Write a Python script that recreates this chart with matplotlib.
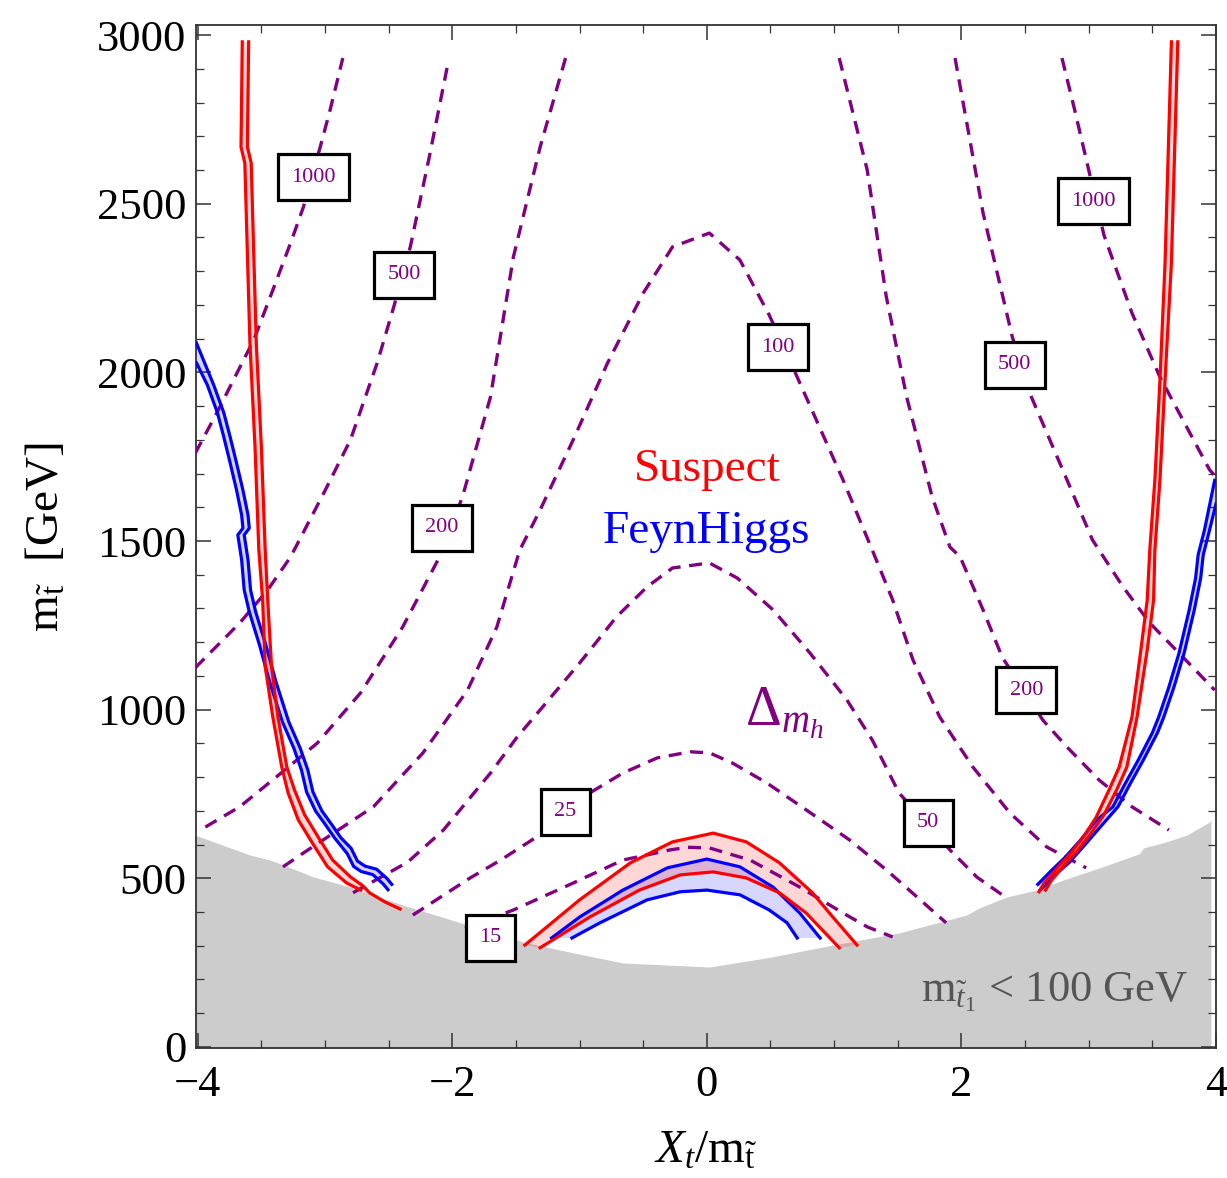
import matplotlib.pyplot as plt

plt.rcParams['font.family'] = 'Liberation Serif'
plt.rcParams['mathtext.fontset'] = 'custom'
plt.rcParams['mathtext.rm'] = 'Liberation Serif'
plt.rcParams['mathtext.it'] = 'Liberation Serif:italic'

# excluded region, m_stop1 < 100 GeV (upper edge)
excl_x = [-4.02, -3.59, -3.43, -3.33, -3.09, -2.80, -2.39, -1.96, -1.44, -1.05, -0.66,
          0.02, 0.47, 0.99, 1.51, 2.04, 2.14, 2.36, 2.59, 2.80, 3.11, 3.40, 3.43, 3.61,
          3.77, 3.95, 3.96]
excl_y = [628, 569, 554, 540, 504, 474, 421, 371, 311, 279, 249,
          237, 264, 302, 338, 391, 412, 445, 465, 495, 534, 573, 590, 608,
          628, 667, 673]

# Delta m_h contours (dashed)
c15_x = [-1.90, -1.52, -1.05, -0.66, -0.29, -0.15, 0.02, 0.34, 0.73, 1.07, 1.26, 1.46]
c15_y = [353, 406, 486, 554, 584, 592, 590, 554, 474, 397, 356, 326]
c25_x = [-2.31, -1.86, -1.62, -1.29, -0.92, -0.66, -0.39, -0.13, 0.02, 0.20, 0.47, 0.78,
         1.12, 1.41, 1.65, 1.88]
c25_y = [391, 501, 554, 634, 753, 812, 857, 875, 872, 842, 783, 703,
         614, 525, 445, 368]
c50_x = [-2.78, -2.35, -2.07, -1.70, -1.49, -1.29, -1.00, -0.71, -0.47, -0.27, 0.02, 0.24,
         0.52, 0.81, 1.10, 1.30, 1.51, 1.91, 2.12, 2.32]
c50_y = [457, 548, 643, 812, 919, 1008, 1138, 1275, 1364, 1420, 1435, 1390,
         1296, 1168, 1029, 910, 753, 584, 504, 451]
c100_x = [-3.33, -3.17, -2.62, -2.23, -1.88, -1.65, -1.47, -1.31, -1.05, -0.78, -0.50, -0.27,
          0.02, 0.26, 0.49, 0.71, 0.86, 1.07, 1.30, 1.46, 1.62, 1.83, 2.09, 2.38, 2.67, 2.98]
c100_y = [534, 575, 712, 872, 1058, 1245, 1473, 1592, 1800, 2028, 2235, 2372,
          2413, 2333, 2170, 1986, 1859, 1681, 1473, 1325, 1147, 978, 830, 694, 593, 531]
c200l_x = [-3.94, -3.67, -3.41, -3.06, -2.72, -2.39, -2.10, -1.92, -1.70, -1.52, -1.31, -1.11]
c200l_y = [652, 712, 792, 901, 1050, 1245, 1453, 1631, 1927, 2342, 2668, 2932]
c200r_x = [1.04, 1.26, 1.41, 1.57, 1.77, 1.91, 1.99, 2.17, 2.32, 2.64, 2.83, 3.08, 3.34, 3.63]
c200r_y = [2932, 2600, 2224, 1927, 1631, 1482, 1453, 1296, 1156, 969, 889, 792, 712, 643]
c500l_x = [-4.02, -3.67, -3.45, -3.27, -3.01, -2.80, -2.59, -2.46, -2.33, -2.18, -2.04]
c500l_y = [1124, 1257, 1355, 1453, 1642, 1800, 2028, 2194, 2372, 2640, 2905]
c500r_x = [1.95, 2.17, 2.40, 2.55, 2.83, 3.03, 3.27, 3.48, 3.74, 3.99]
c500r_y = [2932, 2473, 2105, 1927, 1681, 1503, 1364, 1257, 1156, 1058]
c1000l_x = [-4.02, -3.85, -3.72, -3.56, -3.41, -3.27, -3.17, -3.04, -2.96, -2.86]
c1000l_y = [1760, 1880, 1977, 2096, 2244, 2384, 2490, 2665, 2778, 2932]
c1000r_x = [2.79, 2.89, 3.12, 3.34, 3.56, 3.74, 3.95, 4.0]
c1000r_y = [2932, 2778, 2407, 2176, 1986, 1859, 1711, 1690]

# Suspect band, left branch
susl_a_x = [-3.65, -3.66, -3.63, -3.59, -3.55, -3.52, -3.49, -3.47, -3.41, -3.34, -3.29,
            -3.21, -3.10, -2.98, -2.83, -2.72]
susl_a_y = [2980, 2668, 2621, 2087, 1779, 1473, 1325, 1127, 978, 830, 753,
            673, 605, 534, 486, 465]
susl_b_x = [-3.60, -3.61, -3.58, -3.54, -3.50, -3.47, -3.45, -3.42, -3.37, -3.30, -3.24,
            -3.16, -3.05, -2.94, -2.80, -2.70, -2.65, -2.53, -2.41]
susl_b_y = [2980, 2668, 2621, 2087, 1779, 1473, 1325, 1127, 978, 830, 762,
            688, 620, 554, 504, 477, 457, 430, 409]
# Suspect band, right branch
susr_a_x = [3.65, 3.60, 3.56, 3.52, 3.48, 3.46, 3.41, 3.34, 3.24, 3.16, 3.06, 2.96,
            2.86, 2.76, 2.65, 2.61]
susr_a_y = [2980, 2324, 1977, 1681, 1473, 1325, 1177, 978, 830, 762, 682, 623,
            575, 534, 486, 460]
susr_b_x = [3.70, 3.65, 3.60, 3.56, 3.52, 3.51, 3.46, 3.38, 3.30, 3.22, 3.12, 3.01,
            2.91, 2.81, 2.71, 2.66]
susr_b_y = [2980, 2324, 1977, 1681, 1473, 1325, 1177, 978, 830, 762, 688, 629,
            581, 540, 495, 465]
# Suspect band, central arch
susc_a_x = [-1.43, -1.00, -0.60, -0.27, 0.05, 0.31, 0.57, 0.83, 0.99, 1.18]
susc_a_y = [302, 436, 546, 608, 634, 608, 546, 457, 385, 302]
susc_b_x = [-1.31, -0.92, -0.53, -0.21, 0.05, 0.31, 0.57, 0.78, 1.04]
susc_b_y = [294, 385, 465, 510, 519, 501, 457, 397, 294]

# FeynHiggs band, left branch
fhl_a_x = [-4.01, -3.925, -3.845, -3.795, -3.745, -3.695, -3.655, -3.645, -3.685, -3.655,
           -3.635, -3.595, -3.515, -3.435, -3.335, -3.245, -3.185, -3.145, -3.075, -2.995,
           -2.925, -2.825, -2.775, -2.715, -2.625, -2.545, -2.505]
fhl_a_y = [2028, 1963, 1880, 1808, 1731, 1651, 1577, 1538, 1518, 1444,
           1355, 1290, 1192, 1082, 964, 886, 821, 756, 700, 658,
           620, 573, 535, 520, 511, 484, 466]
fhl_b_x = [-4.01, -3.875, -3.795, -3.745, -3.695, -3.645, -3.605, -3.595, -3.635, -3.605,
           -3.585, -3.545, -3.465, -3.385, -3.285, -3.195, -3.135, -3.095, -3.025, -2.945,
           -2.875, -2.795, -2.745, -2.685, -2.595, -2.515, -2.475]
fhl_b_y = [2087, 1963, 1880, 1808, 1731, 1651, 1577, 1538, 1518, 1444,
           1355, 1290, 1192, 1082, 964, 886, 821, 756, 700, 658,
           620, 589, 551, 536, 527, 500, 482]
# FeynHiggs band, right branch
fhr_a_x = [3.99, 3.91, 3.86, 3.84, 3.79, 3.71, 3.63, 3.55, 3.50, 3.39, 3.29, 3.19,
           3.06, 2.935, 2.815, 2.71, 2.60]
fhr_a_y = [1680, 1533, 1459, 1390, 1296, 1168, 1067, 978, 931, 851, 783, 712,
           672, 613, 562, 524, 482]
fhr_b_x = [4.00, 3.95, 3.90, 3.88, 3.83, 3.75, 3.67, 3.59, 3.54, 3.43, 3.33, 3.23,
           3.10, 2.965, 2.845, 2.73, 2.62]
fhr_b_y = [1610, 1533, 1459, 1390, 1296, 1168, 1067, 978, 931, 851, 783, 712,
           656, 597, 546, 508, 466]
# FeynHiggs band, central arch
fhc_a_x = [-1.22, -1.00, -0.66, -0.31, 0.00, 0.26, 0.52, 0.73, 0.89]
fhc_a_y = [323, 385, 465, 531, 557, 534, 474, 397, 323]
fhc_b_x = [-1.06, -0.84, -0.47, -0.21, 0.00, 0.26, 0.49, 0.63, 0.71]
fhc_b_y = [323, 368, 436, 460, 465, 451, 406, 368, 323]

fig = plt.figure(figsize=(12.27, 11.78), dpi=100)
ax = fig.add_axes([0.1597, 0.1104, 0.8313, 0.8684])

ax.fill_between(excl_x, excl_y, -50, color='#cccccc', lw=0, zorder=1)

purple = '#800080'
contours = [(c15_x, c15_y), (c25_x, c25_y), (c50_x, c50_y), (c100_x, c100_y),
            (c200l_x, c200l_y), (c200r_x, c200r_y), (c500l_x, c500l_y),
            (c500r_x, c500r_y), (c1000l_x, c1000l_y), (c1000r_x, c1000r_y)]
for cx, cy in contours:
    ax.plot(cx, cy, color=purple, lw=2.4, ls=(0, (3.9, 2.6)), zorder=3)

def band(xa, ya, xb, yb, color, fill):
    ax.fill(list(xa) + list(xb)[::-1], list(ya) + list(yb)[::-1],
            color=fill, lw=0, zorder=2)
    ax.plot(xa, ya, color=color, lw=2.3, zorder=4)
    ax.plot(xb, yb, color=color, lw=2.3, zorder=4)

band(fhc_a_x, fhc_a_y, fhc_b_x, fhc_b_y, 'blue', (0, 0, 1, 0.16))
band(susc_a_x, susc_a_y, susc_b_x, susc_b_y, 'red', (1, 0, 0, 0.16))
band(fhl_a_x, fhl_a_y, fhl_b_x, fhl_b_y, 'blue', (0, 0, 1, 0.16))
band(fhr_a_x, fhr_a_y, fhr_b_x, fhr_b_y, 'blue', (0, 0, 1, 0.16))
band(susl_a_x, susl_a_y, susl_b_x, susl_b_y, 'red', (1, 0, 0, 0.16))
band(susr_a_x, susr_a_y, susr_b_x, susr_b_y, 'red', (1, 0, 0, 0.16))

# contour labels
labels = [('1000', -3.09, 2579), ('500', -2.38, 2289), ('200', -2.08, 1539),
          ('100', 0.56, 2075), ('25', -1.11, 697), ('15', -1.70, 323),
          ('50', 1.74, 664), ('200', 2.51, 1058), ('500', 2.42, 2022),
          ('1000', 3.04, 2508)]
for txt, lx, ly in labels:
    ax.text(lx, ly, txt, color=purple, fontsize=16, ha='center', va='center', zorder=6,
            bbox=dict(boxstyle='square,pad=0.6', fc='white', ec='black', lw=2.3))

ax.text(0.0, 1711, 'Suspect', color='red', fontsize=34, ha='center', va='center', zorder=6)
ax.text(0.0, 1527, 'FeynHiggs', color='blue', fontsize=34, ha='center', va='center', zorder=6)
ax.text(0.61, 990, r'$\Delta_{m_h}$', color=purple, fontsize=40, ha='center', va='center',
        zorder=6)
ax.text(3.78, 162, r'$\mathrm{m}_{\tilde{t}_1}$ < 100 GeV', color='#555555', fontsize=32,
        ha='right', va='center', zorder=6)

ax.set_xlim(-4.014, 4.0)
ax.set_ylim(-3, 3030)
ax.set_xticks([-4, -2, 0, 2, 4])
ax.set_xticks([i * 0.5 - 4 for i in range(17)], minor=True)
ax.set_yticks([0, 500, 1000, 1500, 2000, 2500, 3000])
ax.set_yticks(range(0, 3001, 100), minor=True)
ax.tick_params(which='both', direction='in', top=True, right=True, labelsize=32,
               color='#333333')
ax.tick_params(which='major', length=11, width=1.1, pad=7)
ax.tick_params(axis='x', which='major', pad=12)
ax.tick_params(which='minor', length=6, width=0.9)
for s in ax.spines.values():
    s.set_linewidth(1.3)
    s.set_color('#333333')

ax.set_xlabel(r'$X_t/\mathrm{m}_{\tilde{\mathrm{t}}}$', fontsize=34)
ax.set_ylabel(r'$\mathrm{m}_{\tilde{\mathrm{t}}}$  [GeV]', fontsize=34)
ax.xaxis.set_label_coords(0.5, -0.08)
ax.yaxis.set_label_coords(-0.125, 0.5)

plt.savefig('out.png', dpi=100)
